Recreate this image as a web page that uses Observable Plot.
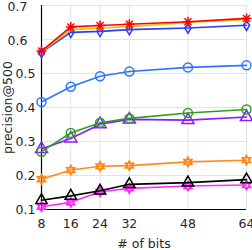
<!DOCTYPE html>
<html><head><meta charset="utf-8">
<script src="https://cdn.jsdelivr.net/npm/d3@7"></script>
<script src="https://cdn.jsdelivr.net/npm/@observablehq/plot@0.6"></script>
<style>body{margin:0;background:#fff;font-family:"DejaVu Sans",sans-serif}</style>
</head><body><div id="chart"></div>
<script>
const bits = [8, 16, 24, 32, 48, 64];
const yTicks = [0.1, 0.2, 0.3, 0.4, 0.5, 0.6, 0.7];
const yTicksLow = [0.1, 0.2, 0.3, 0.4, 0.5];
const yTicksHigh = [0.6, 0.7];
const sMagenta = [0.108, 0.121, 0.152, 0.162, 0.169, 0.172];
const sBlack = [0.127, 0.140, 0.155, 0.174, 0.179, 0.188];
const sOrange = [0.189, 0.216, 0.227, 0.229, 0.240, 0.245];
const sPurple = [0.278, 0.309, 0.351, 0.365, 0.363, 0.372];
const sGreen = [0.270, 0.325, 0.355, 0.368, 0.384, 0.394];
const sLightBlue = [0.416, 0.461, 0.492, 0.506, 0.518, 0.524];
const sBlue = [0.562, 0.621, 0.624, 0.629, 0.634, 0.642];
const sYellow = [0.564, 0.629, 0.633, 0.638, 0.650, 0.659];
const sRed = [0.566, 0.637, 0.641, 0.645, 0.652, 0.662];

const hexagram = {draw(ctx, size) {
  const r = Math.sqrt(size / Math.PI) * 1.15;
  for (const off of [-Math.PI/2, Math.PI/2]) {
    for (let i = 0; i < 3; i++) {
      const a = off + i * 2 * Math.PI / 3;
      const x = r * Math.cos(a), y = r * Math.sin(a);
      if (i === 0) ctx.moveTo(x, y); else ctx.lineTo(x, y);
    }
    ctx.closePath();
  }
}};
const star8 = {draw(ctx, size) {
  const r = Math.sqrt(size / Math.PI) * 1.1;
  for (let i = 0; i < 4; i++) {
    const a = i * Math.PI / 4;
    ctx.moveTo(-r*Math.cos(a), -r*Math.sin(a));
    ctx.lineTo(r*Math.cos(a), r*Math.sin(a));
  }
}};
const diamond = {draw(ctx, size) {
  const r = Math.sqrt(size / Math.PI);
  ctx.moveTo(0, -r*1.0); ctx.lineTo(r*0.75, 0); ctx.lineTo(0, r*1.25); ctx.lineTo(-r*0.75, 0); ctx.closePath();
}};

const series = [
  {v: sMagenta, c: "#ff2bff", sym: hexagram, r: 4.2},
  {v: sBlack, c: "#000000", sym: "triangle", r: 4.2},
  {v: sOrange, c: "#ff8a1c", sym: hexagram, r: 4.2},
  {v: sPurple, c: "#8b1aff", sym: "triangle", r: 4.5},
  {v: sGreen, c: "#2ca01c", sym: "circle", r: 4.5},
  {v: sLightBlue, c: "#2d74ff", sym: "circle", r: 4.5},
  {v: sBlue, c: "#2a3cff", sym: diamond, r: 4.2},
  {v: sYellow, c: "#f2c200", sym: null, r: 0},
  {v: sRed, c: "#ff0000", sym: star8, r: 4.5}
];

const marks = [
  Plot.gridX(bits, {stroke: "#e3e3e3", strokeOpacity: 1, strokeWidth: 1}),
  Plot.gridY(yTicks, {stroke: "#e3e3e3", strokeOpacity: 1, strokeWidth: 1}),
  Plot.ruleX([8], {stroke: "#000", strokeWidth: 1.2}),
  Plot.ruleY([0.1], {stroke: "#000", strokeWidth: 1.2})
];
for (const s of series) {
  const data = bits.map((b, i) => ({x: b, y: s.v[i]}));
  marks.push(Plot.line(data, {x: "x", y: "y", stroke: s.c, strokeWidth: 1.6}));
  if (s.sym) marks.push(Plot.dot(data, {x: "x", y: "y", stroke: s.c, strokeWidth: 1.5, fill: "none", symbol: s.sym, r: s.r}));
}
marks.push(
  Plot.axisX(bits, {tickSize: 0, tickPadding: 10, fontSize: 12.5, tickFormat: d => String(d), label: "# of bits", labelAnchor: "center", labelArrow: "none", labelOffset: 38, fill: "#262626"}),
  Plot.axisY(yTicksLow, {tickSize: 0, tickPadding: 6, fontSize: 12.5, tickFormat: d => d.toFixed(1), label: "precision@500", labelAnchor: "center", labelArrow: "none", labelOffset: 38, fill: "#262626"}),
  Plot.axisY(yTicksHigh, {tickSize: 0, tickPadding: 14, fontSize: 12.5, tickFormat: d => d.toFixed(1), label: null, fill: "#262626", dy: 1})
);

const chart = Plot.plot({
  width: 252, height: 250,
  marginLeft: 41, marginRight: 6, marginTop: 5, marginBottom: 41,
  x: {type: "linear", domain: [8, 64]},
  y: {domain: [0.1, 0.7]},
  style: {fontFamily: "'DejaVu Sans', sans-serif", background: "#fff", overflow: "visible"},
  marks
});
document.getElementById("chart").appendChild(chart);
</script></body></html>
